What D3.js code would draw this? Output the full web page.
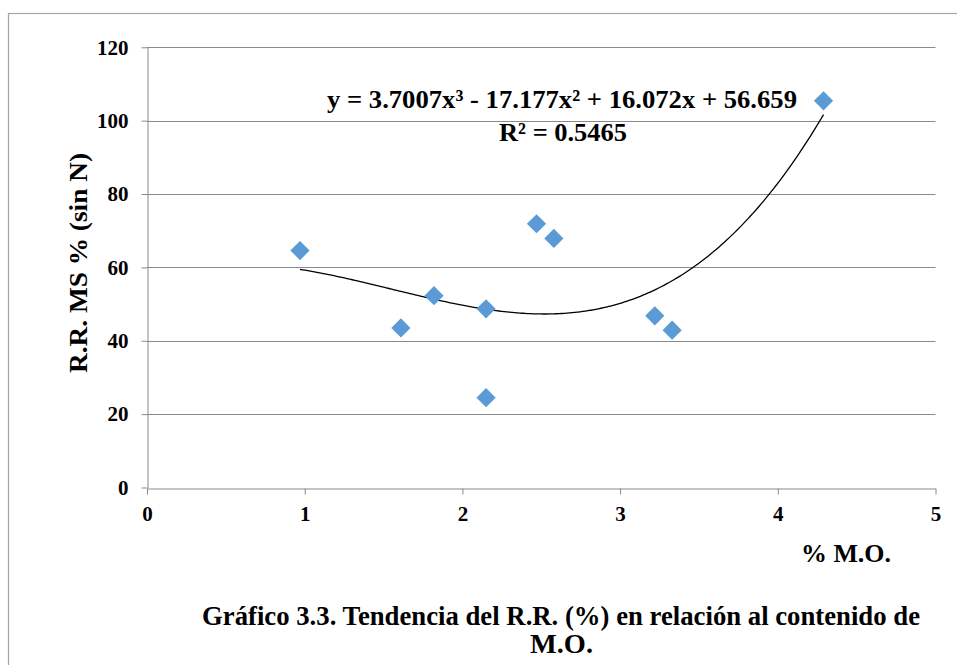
<!DOCTYPE html>
<html>
<head>
<meta charset="utf-8">
<script src="https://cdn.jsdelivr.net/npm/d3@7"></script>
<style>
  html, body { margin: 0; padding: 0; background: #fff; }
  svg { display: block; font-family: "Liberation Serif", "Times New Roman", serif; font-weight: bold; }
</style>
</head>
<body>
<svg id="chart" width="957" height="665"></svg>
<script>
// Muestras: contenido de materia orgánica (%) y R.R. MS % (sin N)
const moValues = [0.97, 1.61, 1.82, 2.15, 2.15, 2.47, 2.58, 3.22, 3.33, 4.29];
const rrValues = [64.6, 43.5, 52.3, 48.7, 24.5, 71.9, 67.9, 46.8, 42.9, 105.4];

// Ejes
const xTicks = [0, 1, 2, 3, 4, 5];
const yTicks = [0, 20, 40, 60, 80, 100, 120];

// Línea de tendencia polinómica de grado 3 (coeficientes de x³, x², x, término independiente)
const trendCoef = [3.7007, -17.177, 16.072, 56.659];
const rSquared = 0.5465;

const labels = {
  x: "% M.O.",
  y: "R.R. MS % (sin N)",
  caption1: "Gráfico 3.3. Tendencia del R.R. (%) en relación al contenido de",
  caption2: "M.O."
};

const svg = d3.select("#chart");
const gridColor = "#8a8a8a";
const serif = "Liberation Serif";

// Marco exterior
svg.append("rect")
  .attr("x", 8.5).attr("y", 13.5)
  .attr("width", 1000).attr("height", 700)
  .attr("fill", "none").attr("stroke", "#a6a6a6").attr("stroke-width", 1.2);

const x = d3.scaleLinear().domain([0, 5]).range([147, 935.5]);
const y = d3.scaleLinear().domain([0, 120]).range([487.5, 47.3]);

// Líneas de cuadrícula horizontales
svg.append("g")
  .selectAll("line")
  .data(yTicks.filter(d => d > 0))
  .join("line")
  .attr("x1", x(0)).attr("x2", x(5))
  .attr("y1", d => Math.round(y(d)) + 0.5).attr("y2", d => Math.round(y(d)) + 0.5)
  .attr("stroke", gridColor).attr("stroke-width", 1);

// Eje Y
const yAxis = svg.append("g")
  .attr("transform", `translate(${Math.round(x(0)) + 0.5},0)`)
  .call(d3.axisLeft(y).tickValues(yTicks).tickFormat(d3.format("d"))
    .tickSize(6).tickPadding(13).tickSizeOuter(0));
yAxis.select(".domain").attr("stroke", gridColor);
yAxis.selectAll(".tick line").attr("stroke", gridColor);
yAxis.selectAll(".tick text")
  .attr("font-size", 21).attr("font-family", serif).attr("font-weight", "bold")
  .attr("fill", "#000");

// Eje X
const xAxis = svg.append("g")
  .attr("transform", `translate(0,${Math.round(y(0)) + 0.5})`)
  .call(d3.axisBottom(x).tickValues(xTicks).tickFormat(d3.format("d"))
    .tickSize(6).tickPadding(12).tickSizeOuter(0));
xAxis.select(".domain").attr("stroke", gridColor);
xAxis.selectAll(".tick line").attr("stroke", gridColor);
xAxis.selectAll(".tick text")
  .attr("font-size", 21).attr("font-family", serif).attr("font-weight", "bold")
  .attr("fill", "#000");

// Línea de tendencia entre el mínimo y el máximo de x
const poly = v => trendCoef[0] * v * v * v + trendCoef[1] * v * v + trendCoef[2] * v + trendCoef[3];
const [xmin, xmax] = d3.extent(moValues);
const trendPts = d3.range(0, 201).map(i => {
  const v = xmin + (xmax - xmin) * i / 200;
  return [v, poly(v)];
});
svg.append("path")
  .datum(trendPts)
  .attr("d", d3.line().x(d => x(d[0])).y(d => y(d[1])))
  .attr("fill", "none").attr("stroke", "#000").attr("stroke-width", 1.3);

// Puntos (rombos)
const diamond = d3.symbol().type(d3.symbolSquare).size(185);
svg.append("g")
  .selectAll("path")
  .data(moValues.map((v, i) => [v, rrValues[i]]))
  .join("path")
  .attr("d", diamond)
  .attr("transform", d => `translate(${x(d[0])},${y(d[1])}) rotate(45)`)
  .attr("fill", "#5b9bd5");

// Ecuación y R²
const eqText = `y = ${trendCoef[0]}x³ - ${Math.abs(trendCoef[1])}x² + ${trendCoef[2]}x + ${trendCoef[3]}`;
svg.append("text")
  .attr("x", 327).attr("y", 108)
  .attr("font-size", 26)
  .attr("textLength", 470).attr("lengthAdjust", "spacingAndGlyphs")
  .text(eqText);
svg.append("text")
  .attr("x", 499).attr("y", 141)
  .attr("font-size", 26)
  .attr("textLength", 128).attr("lengthAdjust", "spacingAndGlyphs")
  .text(`R² = ${rSquared}`);

// Títulos de ejes
svg.append("text")
  .attr("transform", `translate(87,373) rotate(-90)`)
  .attr("font-size", 26).attr("font-family", serif)
  .attr("textLength", 220).attr("lengthAdjust", "spacingAndGlyphs")
  .text(labels.y);
svg.append("text")
  .attr("x", 801).attr("y", 562)
  .attr("font-size", 26).attr("font-family", serif)
  .attr("textLength", 90).attr("lengthAdjust", "spacingAndGlyphs")
  .text(labels.x);

// Pie del gráfico
svg.append("text")
  .attr("x", 202).attr("y", 625)
  .attr("font-size", 27)
  .attr("textLength", 718).attr("lengthAdjust", "spacingAndGlyphs")
  .text(labels.caption1);
svg.append("text")
  .attr("x", 530).attr("y", 653)
  .attr("font-size", 27)
  .attr("textLength", 63).attr("lengthAdjust", "spacingAndGlyphs")
  .text(labels.caption2);
</script>
</body>
</html>
